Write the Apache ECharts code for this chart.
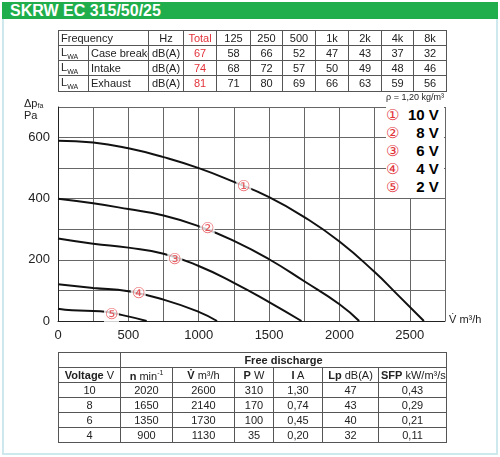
<!DOCTYPE html>
<html>
<head>
<meta charset="utf-8">
<script src="https://cdn.jsdelivr.net/npm/echarts@6/dist/echarts.min.js"></script>
<style>
  body { margin: 0; width: 500px; height: 457px; position: relative; overflow: hidden; background: #fff; font-family: "Liberation Sans Narrow", "Liberation Sans", Arial, sans-serif; }
  #frame { position: absolute; left: 2px; top: 2px; width: 492px; height: 449px; border: 2px solid #cde9ee; }
  #head { position: absolute; left: 2px; top: 2px; width: 496px; height: 17px; background: #1fae4b; color: #fff; font: bold 16px "Liberation Sans", Arial, sans-serif; line-height: 17px; padding-left: 8px; box-sizing: border-box; }
  #chart { position: absolute; left: 0; top: 0; width: 500px; height: 457px; }
  table { position: absolute; border-collapse: collapse; table-layout: fixed; font-size: 11px; color: #222; }
  td { border: 1px solid #555; padding: 0 2px; height: 14px; text-align: center; white-space: nowrap; overflow: hidden; }
  #t1 { left: 58px; top: 30px; width: 388px; }
  #t2 { left: 58px; top: 352px; width: 388px; }
  .red { color: #e2333b; }
  .l { text-align: left; }
  sub { font-size: 7px; }
  #legend { position: absolute; left: 386px; top: 106px; width: 58px; height: 92px; background: #fff; font: bold 15px "Liberation Sans", Arial, sans-serif; line-height: 18px; }
  #legend span { color: #e2333b; font-weight: normal; display: inline-block; width: 22px; }
</style>
</head>
<body>
<div id="frame"></div>
<div id="head">SKRW EC 315/50/25</div>
<div id="chart"></div>
<table id="t1">
  <colgroup><col style="width:30px"><col style="width:60px"><col style="width:35px"><col style="width:33px"><col style="width:34px"><col style="width:32px"><col style="width:33px"><col style="width:33px"><col style="width:33px"><col style="width:32px"><col style="width:33px"></colgroup>
  <tr><td class="l" colspan="2">Frequency</td><td>Hz</td><td class="red">Total</td><td>125</td><td>250</td><td>500</td><td>1k</td><td>2k</td><td>4k</td><td>8k</td></tr>
  <tr><td class="l">L<sub>WA</sub></td><td class="l">Case breakout</td><td>dB(A)</td><td class="red">67</td><td>58</td><td>66</td><td>52</td><td>47</td><td>43</td><td>37</td><td>32</td></tr>
  <tr><td class="l">L<sub>WA</sub></td><td class="l">Intake</td><td>dB(A)</td><td class="red">74</td><td>68</td><td>72</td><td>57</td><td>50</td><td>49</td><td>48</td><td>46</td></tr>
  <tr><td class="l">L<sub>WA</sub></td><td class="l">Exhaust</td><td>dB(A)</td><td class="red">81</td><td>71</td><td>80</td><td>69</td><td>66</td><td>63</td><td>59</td><td>56</td></tr>
</table>
<div id="legend">
  <div><span>①</span>10 V</div>
  <div><span>②</span>&nbsp; 8 V</div>
  <div><span>③</span>&nbsp; 6 V</div>
  <div><span>④</span>&nbsp; 4 V</div>
  <div><span>⑤</span>&nbsp; 2 V</div>
</div>
<table id="t2">
  <colgroup><col style="width:62px"><col style="width:52px"><col style="width:62px"><col style="width:39px"><col style="width:49px"><col style="width:56px"><col style="width:68px"></colgroup>
  <tr><td></td><td colspan="6"><b>Free discharge</b></td></tr>
  <tr><td><b>Voltage</b> V</td><td><b>n</b> min<sup style="font-size:7px">-1</sup></td><td><b>V̇</b> m³/h</td><td><b>P</b> W</td><td><b>I</b> A</td><td><b>Lp</b> dB(A)</td><td><b>SFP</b> kW/m³/s</td></tr>
  <tr><td>10</td><td>2020</td><td>2600</td><td>310</td><td>1,30</td><td>47</td><td>0,43</td></tr>
  <tr><td>8</td><td>1650</td><td>2140</td><td>170</td><td>0,74</td><td>43</td><td>0,29</td></tr>
  <tr><td>6</td><td>1350</td><td>1730</td><td>100</td><td>0,45</td><td>40</td><td>0,21</td></tr>
  <tr><td>4</td><td>900</td><td>1130</td><td>35</td><td>0,20</td><td>32</td><td>0,11</td></tr>
</table>
<script>
const curve10 = [[0,590],[250,584],[500,565],[750,536],[1000,500],[1250,455],[1500,405],[1750,340],[2000,260],[2250,160],[2400,92],[2600,0]];
const curve8 = [[0,400],[250,385],[500,366],[750,345],[1000,310],[1250,262],[1500,202],[1750,130],[2000,55],[2140,0]];
const curve6 = [[0,270],[250,253],[500,240],[750,220],[1000,180],[1250,125],[1500,62],[1730,0]];
const curve4 = [[0,120],[250,108],[500,97],[750,70],[1000,30],[1130,0]];
const curve2 = [[0,40],[100,35],[300,32],[450,20],[630,0]];
const markers = [[1320,440,'①'],[1060,300,'②'],[830,200,'③'],[570,88,'④'],[380,20,'⑤']];

const chart = echarts.init(document.getElementById('chart'));
const line = (d) => ({ type: 'line', data: d, smooth: true, symbol: 'none', lineStyle: { color: '#111', width: 2 }, z: 2 });
chart.setOption({
  animation: false,
  grid: { left: 58, right: 55, top: 107, bottom: 136 },
  xAxis: {
    type: 'value', min: 0, max: 2750, interval: 250,
    axisLine: { lineStyle: { color: '#222' } }, axisTick: { show: false },
    splitLine: { lineStyle: { color: '#666', width: 1 } },
    axisLabel: { color: '#222', fontSize: 13, formatter: (v) => v % 500 === 0 ? v : '' }
  },
  yAxis: {
    type: 'value', min: 0, max: 700, interval: 100,
    axisLine: { show: true, lineStyle: { color: '#222' } }, axisTick: { show: false },
    splitLine: { lineStyle: { color: '#666', width: 1 } },
    axisLabel: { color: '#222', fontSize: 13, formatter: (v) => v % 200 === 0 ? v : '' }
  },
  graphic: [
    { type: 'text', left: 24, top: 98, style: { text: 'Δp{s|fa}\nPa', fontSize: 11, fill: '#222', rich: { s: { fontSize: 7, fill: '#222', padding: [6, 0, 0, 0] } } } },
    { type: 'text', right: 56, top: 93, style: { text: 'ρ = 1,20 kg/m³', fontSize: 9, fill: '#222' } },
    { type: 'text', left: 449, top: 314, style: { text: 'V̇ m³/h', fontSize: 11, fill: '#222' } }
  ],
  series: [
    line(curve10), line(curve8), line(curve6), line(curve4), line(curve2),
    {
      type: 'scatter', symbolSize: 0, z: 5,
      data: markers.map(m => [m[0], m[1], m[2]]),
      label: { show: true, position: 'inside', formatter: (p) => p.data[2], color: '#e2333b', fontSize: 15, backgroundColor: '#fff', padding: [0, 1] }
    }
  ]
});
window.addEventListener('resize', chart.resize);
</script>
</body>
</html>
